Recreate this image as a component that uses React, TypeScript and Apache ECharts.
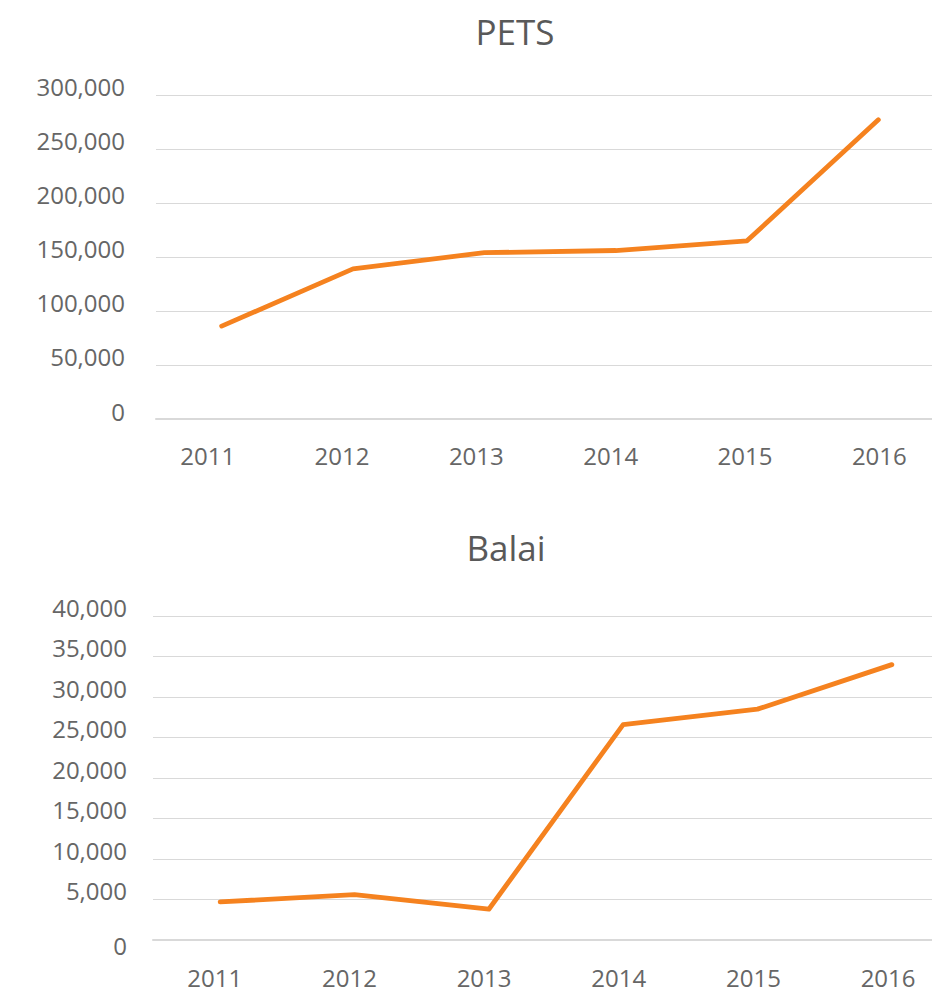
import React, { useEffect, useRef } from 'react';
import * as echarts from 'echarts';

const years = ['2011', '2012', '2013', '2014', '2015', '2016'];
const petsValues = [86000, 139000, 154000, 156000, 165000, 277000];
const balaiValues = [4700, 5600, 3800, 26600, 28500, 34000];
const petsTitle = 'PETS';
const balaiTitle = 'Balai';

export default function App() {
  const ref = useRef<HTMLDivElement>(null);
  useEffect(() => {
    const chart = echarts.init(ref.current!, null, { renderer: 'svg' });
    const font = '"Open Sans", sans-serif';
    const labelColor = '#666666';
    const titleColor = '#595959';
    const lineColor = '#f5821f';
    const gridColor = '#d9d9d9';
    const fmt = (v: number) => v.toLocaleString('en-US');

    const yLabel = (margin: number, zeroDown: boolean) => ({
      fontFamily: font,
      fontSize: 24,
      color: labelColor,
      margin,
      verticalAlign: 'middle',
      formatter: (v: number) => (v === 0 ? `{z|0}` : `{n|${fmt(v)}}`),
      rich: {
        n: { fontFamily: font, fontSize: 24, color: labelColor, padding: [0, 0, 18, 0] },
        z: {
          fontFamily: font,
          fontSize: 24,
          color: labelColor,
          padding: zeroDown ? [10, 0, 0, 0] : [0, 0, 16, 0],
        },
      },
    });

    const lineAxis = (gridIndex: number) => ({
      type: 'category',
      gridIndex,
      data: years,
      boundaryGap: true,
      axisLine: { show: true, lineStyle: { color: gridColor, width: 2 } },
      axisTick: { show: false },
      axisLabel: { show: false },
      splitLine: { show: false },
    });
    const labelAxis = (gridIndex: number, margin: number) => ({
      type: 'category',
      gridIndex,
      data: years,
      boundaryGap: true,
      axisLine: { show: false },
      axisTick: { show: false },
      axisLabel: { fontFamily: font, fontSize: 24, color: labelColor, margin },
      splitLine: { show: false },
    });

    chart.setOption({
      animation: false,
      backgroundColor: '#ffffff',
      graphic: [
        {
          type: 'text',
          x: 515,
          y: 31,
          style: {
            text: petsTitle,
            fontFamily: font,
            fontSize: 35,
            fill: titleColor,
            align: 'center',
            verticalAlign: 'middle',
          },
        },
        {
          type: 'text',
          x: 506,
          y: 547,
          style: {
            text: balaiTitle,
            fontFamily: font,
            fontSize: 35,
            fill: titleColor,
            align: 'center',
            verticalAlign: 'middle',
          },
        },
      ],
      grid: [
        { left: 156, top: 95, width: 788, height: 324 },
        { left: 140.5, top: 95, width: 806, height: 324 },
        { left: 153, top: 616, width: 806, height: 324 },
        { left: 147.4, top: 616, width: 808, height: 324 },
      ],
      xAxis: [lineAxis(0), labelAxis(1, 24), lineAxis(2), labelAxis(3, 25)],
      yAxis: [
        {
          type: 'value',
          gridIndex: 0,
          min: 0,
          max: 300000,
          interval: 50000,
          axisLine: { show: false },
          axisTick: { show: false },
          splitLine: { show: true, lineStyle: { color: gridColor, width: 1 } },
          axisLabel: yLabel(31, false),
        },
        { type: 'value', gridIndex: 1, show: false, min: 0, max: 1 },
        {
          type: 'value',
          gridIndex: 2,
          min: 0,
          max: 40000,
          interval: 5000,
          axisLine: { show: false },
          axisTick: { show: false },
          splitLine: { show: true, lineStyle: { color: gridColor, width: 1 } },
          axisLabel: yLabel(26, true),
        },
        { type: 'value', gridIndex: 3, show: false, min: 0, max: 1 },
      ],
      series: [
        {
          type: 'line',
          name: petsTitle,
          xAxisIndex: 0,
          yAxisIndex: 0,
          data: petsValues,
          symbol: 'none',
          lineStyle: { color: lineColor, width: 4.8, cap: 'round', join: 'round' },
        },
        {
          type: 'line',
          name: balaiTitle,
          xAxisIndex: 2,
          yAxisIndex: 2,
          data: balaiValues,
          symbol: 'none',
          lineStyle: { color: lineColor, width: 4.8, cap: 'round', join: 'round' },
        },
      ],
    });
    return () => chart.dispose();
  }, []);

  return (
    <div
      style={{ position: 'absolute', left: 0, top: 0, width: 932, height: 992, overflow: 'hidden' }}
    >
      <div ref={ref} style={{ position: 'absolute', left: 0, top: 0, width: 980, height: 992 }} />
    </div>
  );
}
